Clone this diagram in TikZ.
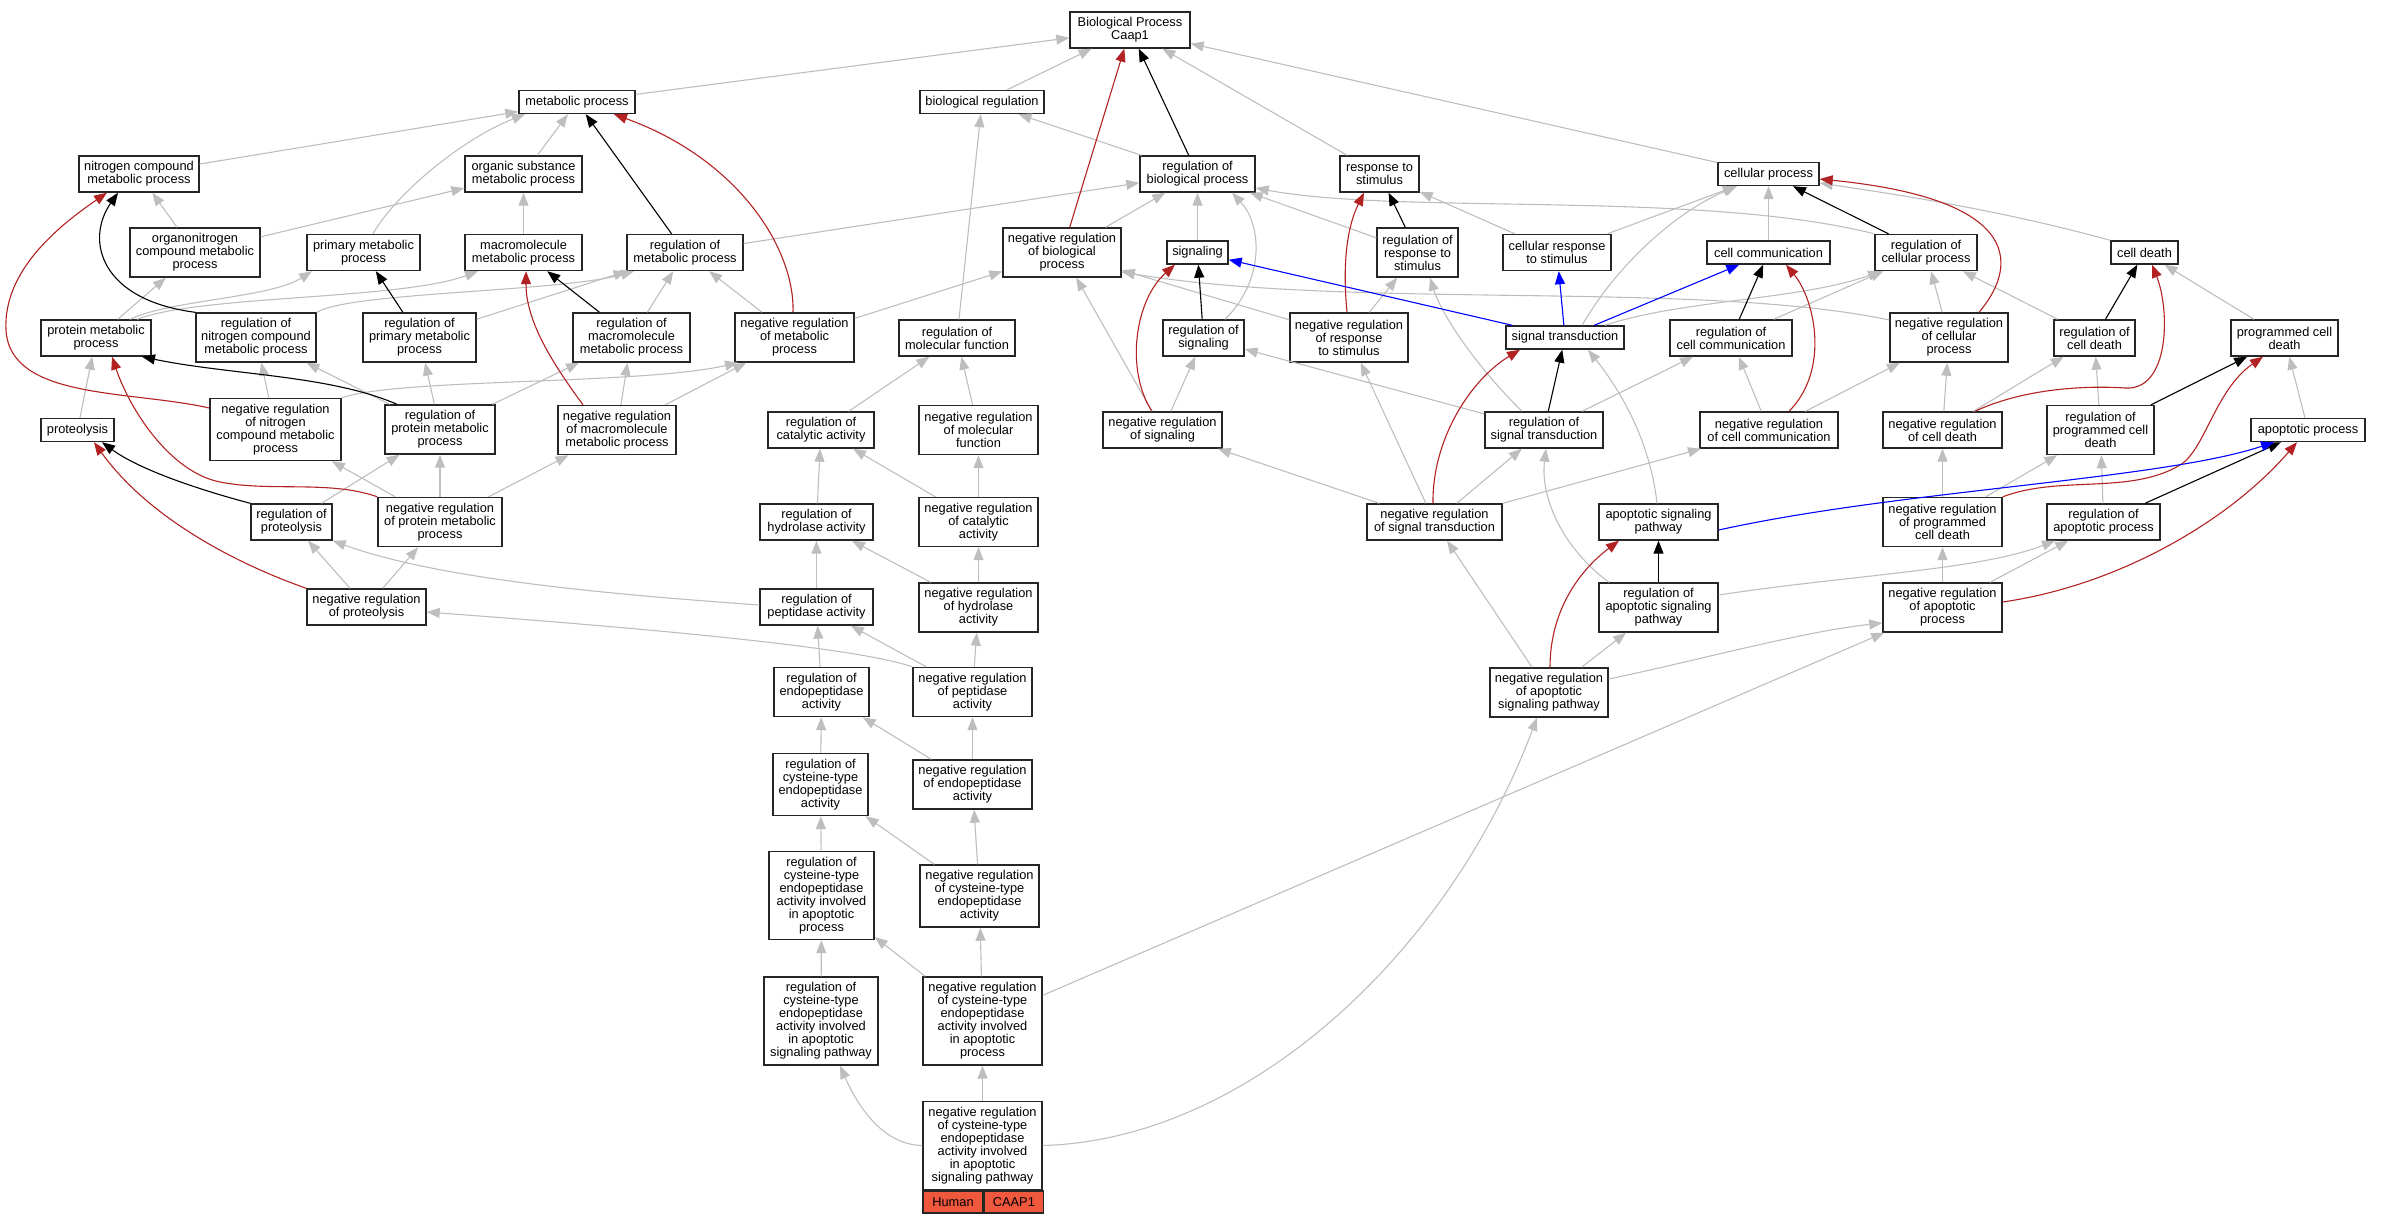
\documentclass[tikz,border=0pt]{standalone}
\usepackage{fontspec}
\setmainfont{Liberation Sans}
\usetikzlibrary{arrows.meta}
\definecolor{isagray}{RGB}{190,190,190}
\definecolor{negred}{RGB}{178,34,34}
\definecolor{partblue}{RGB}{0,0,255}
\definecolor{genefill}{RGB}{240,88,62}
\begin{document}
\begin{tikzpicture}[x=1pt,y=-1pt,
    term/.style={draw=black!85,line width=1.4pt,fill=white,align=center,inner sep=1pt,font=\fontsize{12.8}{13}\selectfont},
    nl/.style={minimum height={(13*#1+10)*1pt}},
    gene/.style={draw=black!85,line width=1.4pt,fill=genefill,minimum height=22pt,inner sep=1pt,anchor=north west,font=\fontsize{12.8}{13}\selectfont},
    isa/.style={isagray,line width=1.1pt,-{Triangle[length=13pt,width=10pt]}},
    reg/.style={black,line width=1.1pt,-{Triangle[length=13pt,width=10pt]}},
    negreg/.style={negred,line width=1.1pt,-{Triangle[length=13pt,width=10pt]}},
    partof/.style={partblue,line width=1.1pt,-{Triangle[length=13pt,width=10pt]}}]
        \useasboundingbox (0,0) rectangle (2381,1224);
        %% Root and upper terms
        \node[term,nl=2,minimum width=120pt] (bp) at (1130,30) {Biological Process\\Caap1};
        \node[term,nl=1,minimum width=116pt] (metab) at (577,102) {metabolic process};
        \node[term,nl=1,minimum width=124pt] (bioreg) at (982,102) {biological regulation};
        \node[term,nl=2,minimum width=120pt] (nitro) at (139,174) {nitrogen compound\\metabolic process};
        \node[term,nl=2,minimum width=117pt] (orgsub) at (523.5,174) {organic substance\\metabolic process};
        \node[term,nl=2,minimum width=115pt] (regbio) at (1197.5,174) {regulation of\\biological process};
        \node[term,nl=2,minimum width=79pt] (resp) at (1379.5,174) {response to\\stimulus};
        \node[term,nl=1,minimum width=101pt] (cellproc) at (1768.5,174) {cellular process};
        \node[term,nl=3,minimum width=130pt] (orgnitro) at (195,252.5) {organonitrogen\\compound metabolic\\process};
        \node[term,nl=2,minimum width=113pt] (primary) at (363.5,252.5) {primary metabolic\\process};
        \node[term,nl=2,minimum width=117pt] (macro) at (523.5,252.5) {macromolecule\\metabolic process};
        \node[term,nl=2,minimum width=116pt] (regmetab) at (685,252.5) {regulation of\\metabolic process};
        \node[term,nl=3,minimum width=118pt] (negbio) at (1062,252.5) {negative regulation\\of biological\\process};
        \node[term,nl=1,minimum width=61pt] (signaling) at (1197.5,252.5) {signaling};
        \node[term,nl=3,minimum width=81pt] (regresp) at (1417.5,252.5) {regulation of\\response to\\stimulus};
        \node[term,nl=2,minimum width=108pt] (cellresp) at (1557,252.5) {cellular response\\to stimulus};
        \node[term,nl=1,minimum width=123pt] (cellcomm) at (1768.5,252.5) {cell communication};
        \node[term,nl=2,minimum width=102pt] (regcell) at (1926,252.5) {regulation of\\cellular process};
        \node[term,nl=1,minimum width=67pt] (celldeath) at (2144.5,252.5) {cell death};
        %% Middle terms
        \node[term,nl=2,minimum width=110pt] (protmetab) at (96,338) {protein metabolic\\process};
        \node[term,nl=3,minimum width=120pt] (regnitro) at (256,337.5) {regulation of\\nitrogen compound\\metabolic process};
        \node[term,nl=3,minimum width=113pt] (regprimary) at (419.5,337.5) {regulation of\\primary metabolic\\process};
        \node[term,nl=3,minimum width=117pt] (regmacro) at (631.5,337.5) {regulation of\\macromolecule\\metabolic process};
        \node[term,nl=3,minimum width=119pt] (negmetab) at (794.5,337.5) {negative regulation\\of metabolic\\process};
        \node[term,nl=2,minimum width=116pt] (regmolfun) at (957,338) {regulation of\\molecular function};
        \node[term,nl=2,minimum width=81pt] (regsig) at (1203.5,338) {regulation of\\signaling};
        \node[term,nl=3,minimum width=118pt] (negresp) at (1349,337.5) {negative regulation\\of response\\to stimulus};
        \node[term,nl=1,minimum width=118pt] (sigtrans) at (1565,337.5) {signal transduction};
        \node[term,nl=2,minimum width=122pt] (regcomm) at (1731,338) {regulation of\\cell communication};
        \node[term,nl=3,minimum width=118pt] (negcell) at (1949,337.5) {negative regulation\\of cellular\\process};
        \node[term,nl=2,minimum width=81pt] (regdeath) at (2094.5,338) {regulation of\\cell death};
        \node[term,nl=2,minimum width=107pt] (pcd) at (2284.5,338) {programmed cell\\death};
        \node[term,nl=1,minimum width=73pt] (proteolysis) at (77.5,430) {proteolysis};
        \node[term,nl=4,minimum width=131pt] (negnitro) at (275.5,429.5) {negative regulation\\of nitrogen\\compound metabolic\\process};
        \node[term,nl=3,minimum width=110pt] (regprot) at (440,429.5) {regulation of\\protein metabolic\\process};
        \node[term,nl=3,minimum width=118pt] (negmacro) at (617,430) {negative regulation\\of macromolecule\\metabolic process};
        \node[term,nl=2,minimum width=106pt] (regcat) at (821,430) {regulation of\\catalytic activity};
        \node[term,nl=3,minimum width=119pt] (negmolfun) at (978.5,430) {negative regulation\\of molecular\\function};
        \node[term,nl=2,minimum width=119pt] (negsig) at (1162.5,430) {negative regulation\\of signaling};
        \node[term,nl=2,minimum width=118pt] (regst) at (1544,430) {regulation of\\signal transduction};
        \node[term,nl=2,minimum width=138pt] (negcomm) at (1769,430) {negative regulation\\of cell communication};
        \node[term,nl=2,minimum width=119pt] (negdeath) at (1942.5,430) {negative regulation\\of cell death};
        \node[term,nl=3,minimum width=107pt] (regpcd) at (2100.5,430) {regulation of\\programmed cell\\death};
        \node[term,nl=1,minimum width=114pt] (apoptotic) at (2308,430) {apoptotic process};
        \node[term,nl=2,minimum width=81pt] (regproteo) at (291.5,522) {regulation of\\proteolysis};
        \node[term,nl=3,minimum width=124pt] (negprot) at (440,522) {negative regulation\\of protein metabolic\\process};
        \node[term,nl=2,minimum width=113pt] (reghydro) at (816.5,522) {regulation of\\hydrolase activity};
        \node[term,nl=3,minimum width=119pt] (negcat) at (978.5,522) {negative regulation\\of catalytic\\activity};
        \node[term,nl=2,minimum width=135pt] (negst) at (1434.5,522) {negative regulation\\of signal transduction};
        \node[term,nl=2,minimum width=119pt] (apsig) at (1658.5,522) {apoptotic signaling\\pathway};
        \node[term,nl=3,minimum width=119pt] (negpcd) at (1942.5,522) {negative regulation\\of programmed\\cell death};
        \node[term,nl=2,minimum width=113pt] (regapop) at (2103.5,522) {regulation of\\apoptotic process};
        \node[term,nl=2,minimum width=119pt] (negproteo) at (366.5,607) {negative regulation\\of proteolysis};
        \node[term,nl=2,minimum width=113pt] (regpep) at (816.5,607) {regulation of\\peptidase activity};
        \node[term,nl=3,minimum width=119pt] (neghydro) at (978.5,607.5) {negative regulation\\of hydrolase\\activity};
        \node[term,nl=3,minimum width=119pt] (regapsig) at (1658.5,607.5) {regulation of\\apoptotic signaling\\pathway};
        \node[term,nl=3,minimum width=119pt] (negapop) at (1942.5,607.5) {negative regulation\\of apoptotic\\process};
        %% Lower column
        \node[term,nl=3,minimum width=95pt] (regendo) at (821.5,692) {regulation of\\endopeptidase\\activity};
        \node[term,nl=3,minimum width=119pt] (negpep) at (972.5,692) {negative regulation\\of peptidase\\activity};
        \node[term,nl=3,minimum width=118pt] (negapsig) at (1549,692.5) {negative regulation\\of apoptotic\\signaling pathway};
        \node[term,nl=4,minimum width=95pt] (regcys) at (820.5,784.5) {regulation of\\cysteine-type\\endopeptidase\\activity};
        \node[term,nl=3,minimum width=119pt] (negendo) at (972.5,784.5) {negative regulation\\of endopeptidase\\activity};
        \node[term,nl=6,minimum width=105pt] (regcysap) at (821.5,895.5) {regulation of\\cysteine-type\\endopeptidase\\activity involved\\in apoptotic\\process};
        \node[term,nl=4,minimum width=119pt] (negcys) at (979.5,896) {negative regulation\\of cysteine-type\\endopeptidase\\activity};
        \node[term,nl=6,minimum width=114pt] (regcysapsig) at (821,1021) {regulation of\\cysteine-type\\endopeptidase\\activity involved\\in apoptotic\\signaling pathway};
        \node[term,nl=6,minimum width=119pt] (negcysap) at (982.5,1021) {negative regulation\\of cysteine-type\\endopeptidase\\activity involved\\in apoptotic\\process};
        %% Annotated term
        \node[term,nl=6,minimum width=119pt] (target) at (982.5,1145.5) {negative regulation\\of cysteine-type\\endopeptidase\\activity involved\\in apoptotic\\signaling pathway};
        \node[gene,minimum width=60pt] (human) at (target.south west) {Human};
        \node[gene,minimum width=59pt] (caap) at (human.north east) {CAAP1};
        %% is a
        \draw[isa] (metab) -- (bp);
        \draw[isa] (bioreg) -- (bp);
        \draw[isa] (resp) -- (bp);
        \draw[isa] (cellproc) -- (bp);
        \draw[isa] (regbio) -- (bioreg);
        \draw[isa] (regmolfun) -- (bioreg);
        \draw[isa] (nitro) -- (metab);
        \draw[isa] (orgsub) -- (metab);
        \draw[isa] (primary.north -| 373,0) .. controls (395,195) and (460,140) .. (metab.south -| 525,0);
        \draw[isa] (orgnitro) -- (nitro);
        \draw[isa] (orgnitro) -- (orgsub);
        \draw[isa] (macro) -- (orgsub);
        \draw[isa] (protmetab) -- (orgnitro);
        \draw[isa] (protmetab.north -| 130,0) .. controls (170,300) and (270,298) .. (primary.south -| 312,0);
        \draw[isa] (protmetab.north -| 137,0) .. controls (200,295) and (400,300) .. (macro.south -| 478,0);
        \draw[isa] (regnitro.north east) .. controls (350,292) and (560,292) .. (regmetab.south -| 634,0);
        \draw[isa] (regprimary) -- (regmetab);
        \draw[isa] (regmacro) -- (regmetab);
        \draw[isa] (negmetab) -- (regmetab);
        \draw[isa] (negmetab) -- (negbio);
        \draw[isa] (regmetab) -- (regbio);
        \draw[isa] (negbio) -- (regbio);
        \draw[isa] (signaling) -- (regbio);
        \draw[isa] (regresp) -- (regbio);
        \draw[isa] (regsig.north -| 1225,0) .. controls (1265,280) and (1262,225) .. (regbio.south -| 1232,0);
        \draw[isa] (regcell.north west) .. controls (1700,190) and (1400,215) .. (regbio.east |- 0,188);
        \draw[isa] (regprot) -- (regnitro);
        \draw[isa] (regprot) -- (regprimary);
        \draw[isa] (regprot) -- (regmacro);
        \draw[isa] (negnitro) -- (regnitro);
        \draw[isa] (negnitro.north east) .. controls (400,378) and (640,385) .. (negmetab.south -| 738,0);
        \draw[isa] (negmacro) -- (regmacro);
        \draw[isa] (negmacro) -- (negmetab);
        \draw[isa] (proteolysis) -- (protmetab);
        \draw[isa] (regproteo) -- (regprot);
        \draw[isa] (negproteo) -- (regproteo);
        \draw[isa] (negproteo) -- (negprot);
        \draw[isa] (negprot) -- (regprot);
        \draw[isa] (negprot) -- (negnitro);
        \draw[isa] (negprot) -- (negmacro);
        \draw[isa] (regcat) -- (regmolfun);
        \draw[isa] (negmolfun) -- (regmolfun);
        \draw[isa] (reghydro) -- (regcat);
        \draw[isa] (negcat) -- (regcat);
        \draw[isa] (negcat) -- (negmolfun);
        \draw[isa] (regpep) -- (reghydro);
        \draw[isa] (neghydro) -- (reghydro);
        \draw[isa] (neghydro) -- (negcat);
        \draw[isa] (regpep.west |- 0,605) .. controls (620,595) and (440,580) .. (regproteo.south east);
        \draw[isa] (negpep) -- (regpep);
        \draw[isa] (negpep) -- (neghydro);
        \draw[isa] (negpep.north west) .. controls (850,645) and (600,625) .. (negproteo.east |- 0,612);
        \draw[isa] (regendo) -- (regpep);
        \draw[isa] (regcys) -- (regendo);
        \draw[isa] (negendo) -- (regendo);
        \draw[isa] (negendo) -- (negpep);
        \draw[isa] (regcysap) -- (regcys);
        \draw[isa] (negcys) -- (regcys);
        \draw[isa] (negcys) -- (negendo);
        \draw[isa] (regcysapsig) -- (regcysap);
        \draw[isa] (negcysap) -- (regcysap);
        \draw[isa] (negcysap) -- (negcys);
        \draw[isa] (negcysap) -- (negapop);
        \draw[isa] (target) -- (negcysap);
        \draw[isa] (target.west) .. controls (880,1145) and (855,1100) .. (regcysapsig.south -| 840,0);
        \draw[isa] (target.east) .. controls (1250,1140) and (1450,950) .. (negapsig.south -| 1537,0);
        \draw[isa] (negsig) -- (regsig);
        \draw[isa] (negsig) -- (negbio);
        \draw[isa] (negresp) -- (regresp);
        \draw[isa] (negresp) -- (negbio);
        \draw[isa] (cellresp) -- (resp);
        \draw[isa] (cellresp) -- (cellproc);
        \draw[isa] (cellcomm) -- (cellproc);
        \draw[isa] (sigtrans.north -| 1582,0) .. controls (1620,260) and (1680,210) .. (cellproc.south -| 1737,0);
        \draw[isa] (sigtrans.north -| 1605,0) .. controls (1680,300) and (1800,300) .. (regcell.south -| 1881,0);
        \draw[isa] (regcomm) -- (regcell);
        \draw[isa] (negcomm) -- (regcomm);
        \draw[isa] (negcomm) -- (negcell);
        \draw[isa] (negcell) -- (regcell);
        \draw[isa] (negcell.west |- 0,320) .. controls (1700,280) and (1350,310) .. (negbio.east |- 0,272);
        \draw[isa] (regdeath) -- (regcell);
        \draw[isa] (celldeath.north west) .. controls (2000,210) and (1900,195) .. (cellproc.east |- 0,183);
        \draw[isa] (pcd) -- (celldeath);
        \draw[isa] (regst) -- (regsig);
        \draw[isa] (regst) -- (regcomm);
        \draw[isa] (regst.north -| 1522,0) .. controls (1470,360) and (1440,310) .. (regresp.south -| 1430,0);
        \draw[isa] (negst) -- (regst);
        \draw[isa] (negst) -- (negsig);
        \draw[isa] (negst) -- (negcomm);
        \draw[isa] (negst) -- (negresp);
        \draw[isa] (apsig.north -| 1657,0) .. controls (1650,440) and (1620,390) .. (sigtrans.south -| 1588,0);
        \draw[isa] (regapsig.north -| 1609,0) .. controls (1565,550) and (1540,500) .. (regst.south -| 1546,0);
        \draw[isa] (regapsig.east |- 0,595) .. controls (1850,575) and (1980,570) .. (regapop.south -| 2055,0);
        \draw[isa] (negapsig) -- (regapsig);
        \draw[isa] (negapsig) -- (negst);
        \draw[isa] (negapsig.east |- 0,679) .. controls (1700,660) and (1800,632) .. (negapop.west |- 0,623);
        \draw[isa] (negapop) -- (regapop);
        \draw[isa] (negapop) -- (negpcd);
        \draw[isa] (regapop) -- (regpcd);
        \draw[isa] (negpcd) -- (regpcd);
        \draw[isa] (negpcd) -- (negdeath);
        \draw[isa] (regpcd) -- (regdeath);
        \draw[isa] (apoptotic) -- (pcd);
        \draw[isa] (negdeath) -- (regdeath);
        \draw[isa] (negdeath) -- (negcell);
        %% regulates
        \draw[reg] (regbio) -- (bp);
        \draw[reg] (regmetab) -- (metab);
        \draw[reg] (regnitro.north west) .. controls (100,300) and (85,240) .. (nitro.south -| 118,0);
        \draw[reg] (regprimary) -- (primary);
        \draw[reg] (regmacro) -- (macro);
        \draw[reg] (regprot.north -| 397,0) .. controls (330,375) and (230,375) .. (protmetab.south -| 142,0);
        \draw[reg] (regproteo.north west) .. controls (200,490) and (140,470) .. (proteolysis.south -| 102,0);
        \draw[reg] (regsig) -- (signaling);
        \draw[reg] (regresp) -- (resp);
        \draw[reg] (regcell) -- (cellproc);
        \draw[reg] (regcomm) -- (cellcomm);
        \draw[reg] (regdeath) -- (celldeath);
        \draw[reg] (regst) -- (sigtrans);
        \draw[reg] (regapsig) -- (apsig);
        \draw[reg] (regapop) -- (apoptotic);
        \draw[reg] (regpcd) -- (pcd);
        %% negatively regulates
        \draw[negreg] (negbio) -- (bp);
        \draw[negreg] (negmetab.north -| 793,0) .. controls (795,250) and (740,160) .. (metab.south -| 614,0);
        \draw[negreg] (negnitro.west |- 0,408) .. controls (130,390) and (10,400) .. (6,330) .. controls (3,270) and (60,225) .. (nitro.south -| 107,0);
        \draw[negreg] (negmacro.north -| 583,0) .. controls (550,360) and (526,320) .. (macro.south -| 526,0);
        \draw[negreg] (negprot.north west) .. controls (330,480) and (270,492) .. (220,482) .. controls (170,472) and (130,410) .. (protmetab.south -| 112,0);
        \draw[negreg] (negproteo.north west) .. controls (240,565) and (150,520) .. (proteolysis.south -| 94,0);
        \draw[negreg] (negsig.north -| 1152,0) .. controls (1125,370) and (1135,300) .. (signaling.south -| 1175,0);
        \draw[negreg] (negresp.north -| 1347,0) .. controls (1342,260) and (1348,225) .. (resp.south -| 1364,0);
        \draw[negreg] (negst.north -| 1433,0) .. controls (1432,440) and (1470,380) .. (sigtrans.south -| 1520,0);
        \draw[negreg] (negcomm.north -| 1789,0) .. controls (1830,370) and (1815,300) .. (cellcomm.south -| 1786,0);
        \draw[negreg] (negcell.north -| 1979,0) .. controls (2015,270) and (2030,200) .. (cellproc.east |- 0,179);
        \draw[negreg] (negdeath.north -| 1975,0) .. controls (2020,390) and (2080,385) .. (2125,388) .. controls (2170,391) and (2170,310) .. (celldeath.south -| 2152,0);
        \draw[negreg] (negpcd.north east) .. controls (2060,475) and (2130,495) .. (2180,465) .. controls (2205,450) and (2215,390) .. (pcd.south -| 2263,0);
        \draw[negreg] (negapop.east |- 0,602) .. controls (2120,585) and (2230,520) .. (apoptotic.south -| 2297,0);
        \draw[negreg] (negapsig.north -| 1550,0) .. controls (1550,610) and (1580,570) .. (apsig.south -| 1619,0);
        %% part of
        \draw[partof] (sigtrans) -- (signaling);
        \draw[partof] (sigtrans) -- (cellresp);
        \draw[partof] (sigtrans) -- (cellcomm);
        \draw[partof] (apsig.east |- 0,530) .. controls (1900,490) and (2160,480) .. (apoptotic.south -| 2274,0);
\end{tikzpicture}
\end{document}
